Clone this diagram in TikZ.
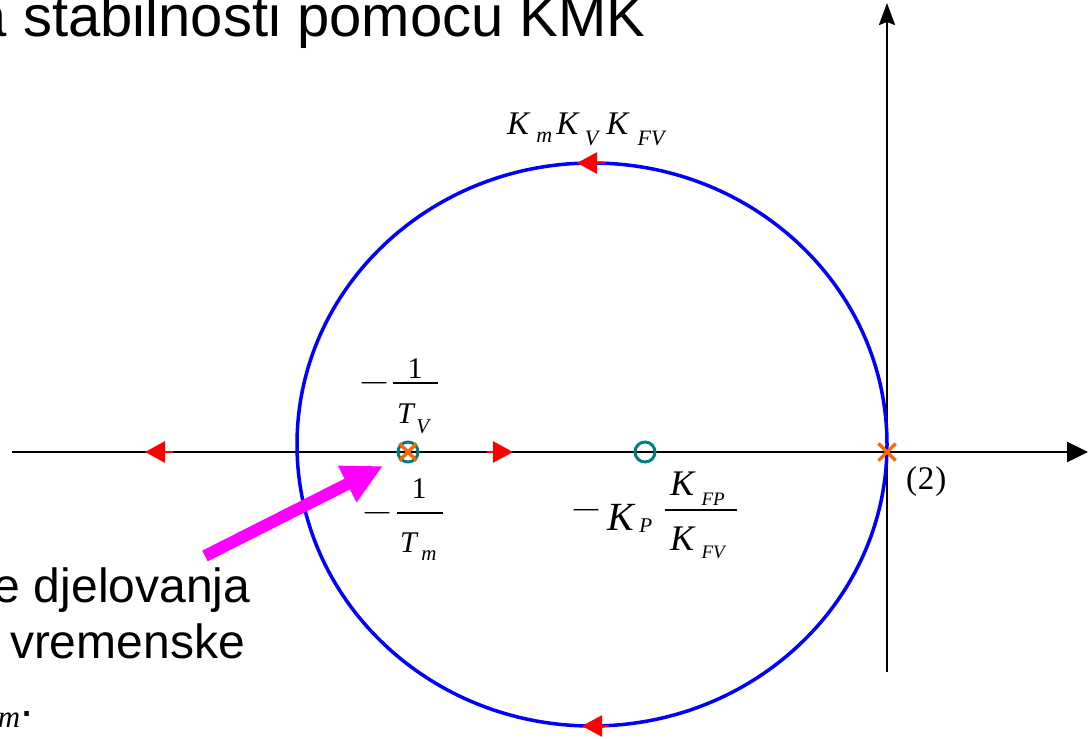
\documentclass[tikz,border=0pt]{standalone}
\usepackage{fontspec}
\setmainfont{Liberation Sans}
\newfontfamily\tnr{Liberation Serif}
\usetikzlibrary{arrows.meta,shapes.misc}
\definecolor{locblue}{RGB}{0,0,255}
\definecolor{arrred}{RGB}{255,0,0}
\definecolor{poleorange}{RGB}{255,102,0}
\definecolor{zeroteal}{RGB}{0,128,128}
\definecolor{pointmag}{RGB}{255,0,255}
\newcommand\fsz[1]{\fontsize{#1}{#1}\selectfont}
\newcommand\lowsub[3]{\raisebox{-#1}{\fsz{#2}\textit{#3}}}
\newcommand\wideminus{\scalebox{1.9}[1]{\tnr\fsz{28}−}}
\tikzset{
  axisline/.style={line width=2.5pt, black},
  locus/.style={line width=3.5pt, locblue},
  dirarrow/.style={line width=2.5pt, arrred, -{Triangle[length=20pt,width=21pt]}},
  zeromark/.style={circle, draw=zeroteal, line width=3pt, minimum size=20pt, inner sep=0pt},
  polemark/.style={cross out, draw=poleorange, line width=3.2pt, minimum size=14pt, inner sep=0pt},
  lbl/.style={inner sep=0pt, outer sep=0pt},
  fracbar/.style={line width=1.4pt, black},
}
\begin{document}
\begin{tikzpicture}[x=1pt,y=-1pt]
\useasboundingbox (0,0) rectangle (1090,739);

% title and side text (cut by the page edge)
\node[lbl, anchor=base west] (title) at (-25,36) {\fsz{58}a stabilnosti pomocu KMK};
\node[lbl, anchor=base west] (txtA) at (-6,602) {\fsz{48}e djelovanja};
\node[lbl, anchor=base west] (txtB) at (10,658) {\fsz{48}vremenske};
\node[lbl, anchor=base west] (txtC) at (-2,727) {{\tnr\fsz{31}\textit{m}}\raisebox{11pt}{\fsz{47}.}};

% axes
\coordinate (xL) at (12,452);
\coordinate (xR) at (1088,452);
\coordinate (yB) at (887,672);
\coordinate (yT) at (887,3);
\draw[axisline, -{Triangle[length=21pt,width=20pt]}] (xL) -- (xR);
\draw[axisline, -{Stealth[length=22pt,width=16pt,inset=3pt]}] (yB) -- (yT);

% root locus circle
\draw[locus] (592,444.5) ellipse [x radius=295, y radius=281.5];

% direction arrows
\draw[dirarrow] (173,452) -- (145,452);
\draw[dirarrow] (487,452) -- (513,452);
\draw[dirarrow] (605,163) -- (577,163);
\draw[dirarrow] (609,726) -- (582,726);

% poles and zeros
\node[zeromark] (z1) at (408,452) {};
\node[polemark] (p1) at (408,452) {};
\node[zeromark] (z2) at (645,452) {};
\node[polemark] (p2) at (887,452) {};

% magenta pointer
\coordinate (ptail) at (205,556);
\coordinate (ptip) at (383,466);
\draw[pointmag, line width=12pt, -{Triangle[length=40pt,width=38pt]}] (ptail) -- (ptip);

% gain label on top
\node[lbl, anchor=base west] (gain) at (507,134) {\tnr\fsz{33}\textit{K}\kern6pt\lowsub{8pt}{22}{m}\kern4pt\textit{K}\kern5pt\lowsub{11pt}{22}{V}\kern6pt\textit{K}\kern8pt\lowsub{11pt}{22}{FV}};

% -1/T_V
\node[lbl, anchor=base] (mV) at (374,392) {\wideminus};
\node[lbl, anchor=base] (oneV) at (415,378) {\tnr\fsz{30}1};
\draw[fracbar] (393,383) -- (438,383);
\node[lbl, anchor=base west] (TV) at (397,423) {\tnr\fsz{30}\textit{T}\kern1pt\lowsub{10pt}{21}{V}};

% -1/T_m
\node[lbl, anchor=base] (mm) at (377,522) {\wideminus};
\node[lbl, anchor=base] (onem) at (419,498) {\tnr\fsz{30}1};
\draw[fracbar] (397,513) -- (443,513);
\node[lbl, anchor=base west] (Tm) at (400,552) {\tnr\fsz{30}\textit{T}\kern3pt\lowsub{8pt}{21}{m}};

% -K_P K_FP/K_FV
\node[lbl, anchor=base] (mK) at (586,519) {\wideminus};
\node[lbl, anchor=base west] (KP) at (607,530) {\tnr\fsz{40}\textit{K}\kern4pt\lowsub{2pt}{21}{P}};
\draw[fracbar] (665,510) -- (737,510);
\node[lbl, anchor=base west] (KFP) at (670,495) {\tnr\fsz{36}\textit{K}\kern6pt\lowsub{10pt}{19}{FP}};
\node[lbl, anchor=base west] (KFV) at (670,550) {\tnr\fsz{36}\textit{K}\kern6pt\lowsub{8pt}{19}{FV}};

% multiplicity
\node[lbl, anchor=base west] (mult) at (906,489) {\tnr\fsz{33}(\kern1pt2\kern1pt)};
\end{tikzpicture}
\end{document}
